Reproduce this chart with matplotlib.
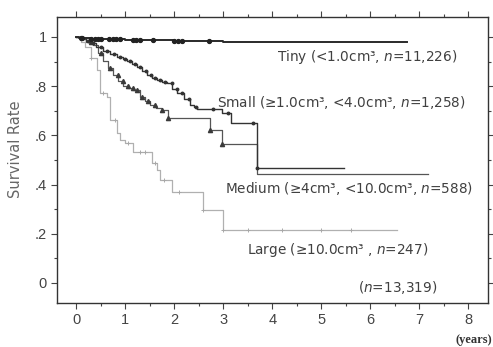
import numpy as np
import matplotlib
matplotlib.use("Agg")
import matplotlib.pyplot as plt
from matplotlib.ticker import MultipleLocator, FixedLocator

# ---- data ----
tiny_t = [0.0, 0.05, 0.15, 0.3, 0.6, 1.0, 1.5, 2.0, 2.5, 3.0, 6.75]
tiny_s = [1.0, 0.997, 0.994, 0.992, 0.99, 0.988, 0.986, 0.984, 0.982, 0.98, 0.98]
tiny_cens = [0.1, 0.13, 0.3, 0.38, 0.45, 0.5, 0.68, 0.75, 0.82, 0.9, 1.17, 1.22, 1.3, 1.57, 2.0, 2.08, 2.16, 2.7]

small_t = [0.0, 0.1, 0.2, 0.29, 0.4, 0.55, 0.7, 0.84, 0.95, 1.04, 1.14, 1.24, 1.35, 1.45, 1.55,
           1.65, 1.76, 1.86, 1.96, 2.06, 2.2, 2.33, 2.4, 2.47, 2.98, 3.15, 3.29, 3.68, 5.47]
small_s = [1.0, 0.995, 0.985, 0.976, 0.96, 0.943, 0.93, 0.919, 0.91, 0.902, 0.89, 0.878, 0.862, 0.846, 0.835,
           0.825, 0.818, 0.813, 0.79, 0.772, 0.748, 0.724, 0.715, 0.707, 0.69, 0.65, 0.65, 0.467, 0.467]
small_cens = [0.25, 0.35, 0.5, 0.62, 0.78, 0.9, 1.0, 1.1, 1.2, 1.3, 1.42, 1.52, 1.6, 1.72, 1.82,
              1.95, 2.05, 2.15, 2.3, 2.45, 2.8, 3.1, 3.6, 3.68]

med_t = [0.0, 0.1, 0.2, 0.35, 0.45, 0.55, 0.65, 0.76, 0.86, 0.96, 1.06, 1.16, 1.3, 1.4, 1.51, 1.62,
         1.76, 1.88, 2.73, 2.98, 3.69, 7.18]
med_s = [1.0, 0.99, 0.98, 0.967, 0.935, 0.902, 0.875, 0.846, 0.822, 0.80, 0.792, 0.785, 0.756, 0.74, 0.724, 0.712,
         0.703, 0.671, 0.62, 0.565, 0.443, 0.443]
med_cens = [0.3, 0.5, 0.7, 0.85, 0.95, 1.05, 1.15, 1.25, 1.35, 1.47, 1.6, 1.76, 1.88, 2.73, 2.98]

large_t = [0.0, 0.1, 0.18, 0.3, 0.43, 0.49, 0.63, 0.69, 0.84, 0.9, 1.0, 1.16, 1.47, 1.55, 1.65, 1.71,
           1.96, 2.59, 3.0, 6.55]
large_s = [1.0, 0.98, 0.96, 0.915, 0.866, 0.772, 0.756, 0.663, 0.61, 0.581, 0.569, 0.533, 0.533, 0.488, 0.459, 0.419,
           0.37, 0.297, 0.215, 0.215]
large_cens = [0.3, 0.55, 0.8, 1.05, 1.3, 1.4, 1.6, 1.8, 2.1, 2.59, 3.0, 3.5, 4.2, 5.0, 5.6]

labels = ["Tiny (<1.0cm\u00b3, $n$=11,226)",
          "Small (\u22651.0cm\u00b3, <4.0cm\u00b3, $n$=1,258)",
          "Medium (\u22654cm\u00b3, <10.0cm\u00b3, $n$=588)",
          "Large (\u226510.0cm\u00b3 , $n$=247)"]
total_label = "($n$=13,319)"
xticks = [0, 1, 2, 3, 4, 5, 6, 7, 8]
yticks = [0, 0.2, 0.4, 0.6, 0.8, 1.0]
ytick_labels = ["0", ".2", ".4", ".6", ".8", "1"]

plt.rcParams['font.family'] = ['Liberation Sans', 'DejaVu Sans']
plt.rcParams['mathtext.fontset'] = 'custom'
plt.rcParams['mathtext.rm'] = 'DejaVu Sans'
plt.rcParams['mathtext.it'] = 'DejaVu Sans:italic'

fig = plt.figure(figsize=(4.93, 3.47), dpi=100)
ax = fig.add_axes([0.1156, 0.127, 0.8744, 0.824])

def surv_at(t_arr, s_arr, tc):
    idx = np.searchsorted(np.asarray(t_arr), np.asarray(tc), side='right') - 1
    return np.asarray(s_arr)[idx]

# Large
ax.step(large_t, large_s, where='post', color='#b0b0b0', lw=0.9)
ax.plot(large_cens, surv_at(large_t, large_s, large_cens), ls='none', marker='+', ms=3.5,
        mew=0.7, color='#a8a8a8')
# Medium
ax.step(med_t, med_s, where='post', color='#555555', lw=0.9)
ax.plot(med_cens, surv_at(med_t, med_s, med_cens), ls='none', marker='^', ms=3.0,
        color='#3a3a3a')
# Small
ax.step(small_t, small_s, where='post', color='#333333', lw=1.0)
ax.plot(small_cens, surv_at(small_t, small_s, small_cens), ls='none', marker='o', ms=1.8,
        color='#333333')
# Tiny
ax.step(tiny_t, tiny_s, where='post', color='#2a2a2a', lw=1.4)
ax.plot(tiny_cens, surv_at(tiny_t, tiny_s, tiny_cens), ls='none', marker='o', ms=2.8,
        color='#222222')

txtc = '#404040'
fs = 9.8
lab_font = ['DejaVu Sans']
ax.text(4.1, 0.92, labels[0], fontsize=fs, color=txtc, va='center', family=lab_font)
ax.text(2.88, 0.735, labels[1], fontsize=fs, color=txtc, va='center', family=lab_font)
ax.text(3.04, 0.386, labels[2], fontsize=fs, color=txtc, va='center', family=lab_font)
ax.text(3.49, 0.134, labels[3], fontsize=fs, color=txtc, va='center', family=lab_font)
ax.text(5.74, -0.02, total_label, fontsize=fs, color=txtc, va='center', family=lab_font)

ax.set_xlim(-0.39, 8.4)
ax.set_ylim(-0.081, 1.081)
ax.xaxis.set_major_locator(FixedLocator(xticks))
ax.xaxis.set_minor_locator(MultipleLocator(0.5))
ax.yaxis.set_major_locator(FixedLocator(yticks))
ax.yaxis.set_minor_locator(MultipleLocator(0.1))
ax.set_yticklabels(ytick_labels)
ax.tick_params(which='both', direction='out', top=True, right=True, colors='#444444',
               labelcolor='#444444', labelsize=10.5, width=0.8)
ax.tick_params(which='major', length=4)
ax.tick_params(which='minor', length=2.5)
for sp in ax.spines.values():
    sp.set_color('#333333')
    sp.set_linewidth(1.0)
ax.set_ylabel("Survival Rate", fontsize=10.5, color='#666666', family=['DejaVu Sans'])
ax.yaxis.set_label_coords(-0.078, 0.538)
fig.text(0.998, 0.02, "(years)", fontsize=9, fontweight='bold', family='Liberation Serif',
         ha='right', va='center', color='#333333')

fig.savefig("out.png", dpi=100)
